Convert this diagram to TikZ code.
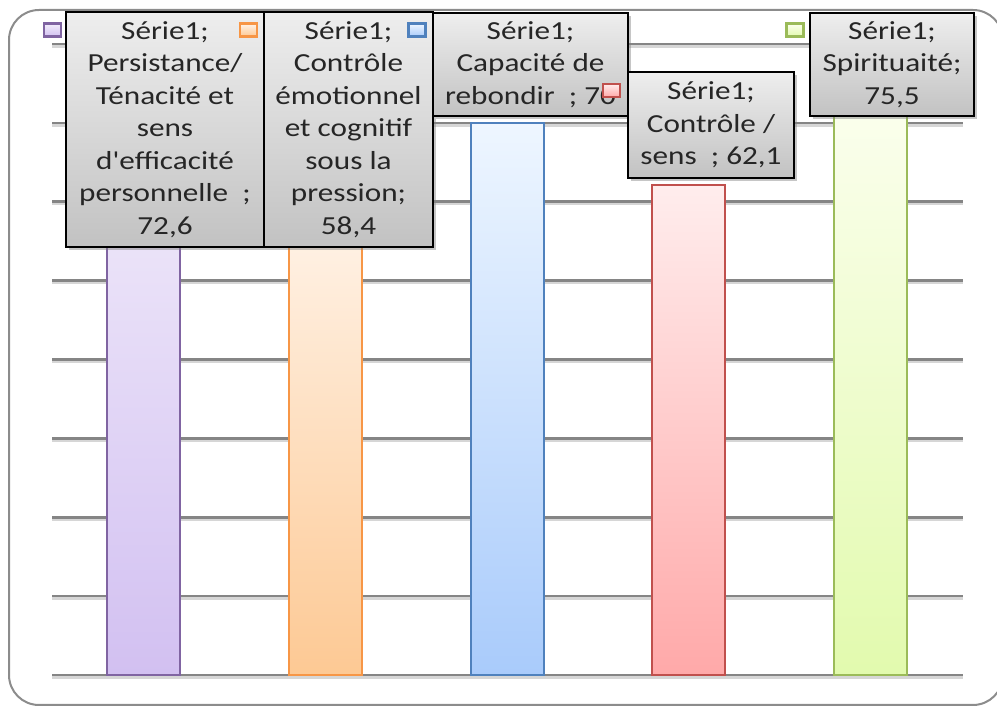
\documentclass[tikz,border=0pt]{standalone}
\usepackage{fontspec}
\newfontfamily\lblfont[FakeStretch=1.2]{Carlito}
\usetikzlibrary{shadows}

\definecolor{frameGray}{HTML}{8C8C8C}
\definecolor{gridGray}{HTML}{858585}
\definecolor{gridShade}{HTML}{D6D6D6}
\definecolor{lblTop}{HTML}{EEEEEE}
\definecolor{lblBot}{HTML}{C2C2C2}
\definecolor{lblText}{HTML}{262626}
\definecolor{violLine}{HTML}{8064A2}
\definecolor{violTop}{HTML}{F3EEFB}
\definecolor{violBot}{HTML}{D2C0F1}
\definecolor{orngLine}{HTML}{F79646}
\definecolor{orngTop}{HTML}{FFF3E8}
\definecolor{orngBot}{HTML}{FDC994}
\definecolor{bleuLine}{HTML}{4F81BD}
\definecolor{bleuTop}{HTML}{EEF6FF}
\definecolor{bleuBot}{HTML}{A9CBFB}
\definecolor{rougLine}{HTML}{C0504D}
\definecolor{rougTop}{HTML}{FFEDED}
\definecolor{rougBot}{HTML}{FFA9A9}
\definecolor{vertLine}{HTML}{9BBB59}
\definecolor{vertTop}{HTML}{FCFFF0}
\definecolor{vertBot}{HTML}{E2FAAE}

\tikzset{
  lbl/.style={draw=black, line width=1.2pt, top color=lblTop, bottom color=lblBot,
    align=center, inner sep=2pt, text=lblText,
    font={\lblfont\fontsize{13pt}{16.25pt}\selectfont},
    drop shadow={opacity=0.45, shadow xshift=1.5pt, shadow yshift=-1.5pt}},
  keybox/.style={draw=#1Line, line width=1.3pt, top color=#1Top, bottom color=#1Bot,
    minimum width=8.5pt, minimum height=6.5pt, inner sep=0pt}
}

\begin{document}
\begin{tikzpicture}[x=0.5pt,y=0.5pt]
\useasboundingbox (0,0) rectangle (997,707);

% outer frame
\draw [frameGray, line width=1pt, rounded corners=15pt] (9,2) rectangle (1003,697);

% gridlines, 0 to 80 step 10
\foreach \k in {0,...,8} {
  \draw [gridShade, line width=1.2pt] (52,{29.5+78.87*\k}) -- (963,{29.5+78.87*\k});
  \draw [gridGray, line width=1.3pt] (52,{32+78.87*\k}) -- (963,{32+78.87*\k});
}

% bars
\foreach \x/\v/\c in {107/72.6/viol, 289/58.4/orng, 471/70/bleu, 652/62.1/roug, 834/75.5/vert} {
  \draw [draw=\c Line, line width=1pt, top color=\c Top, bottom color=\c Bot]
    (\x,32) rectangle ({\x+73},{32+7.887*\v});
}

% data labels
\node [lbl, minimum width=99pt, minimum height=117.5pt] (persist) at (165,577.5)
  {Série1;\\Persistance/\\Ténacité et\\sens\\d'efficacité\\personnelle\ \ ;\\72,6};
\node [lbl, minimum width=84.5pt, minimum height=117.5pt] (emotion) at (348.5,577.5)
  {Série1;\\Contrôle\\émotionnel\\et cognitif\\sous la\\pression;\\58,4};
\node [lbl, minimum width=97.5pt, minimum height=51.5pt] (rebond) at (530.5,642.5)
  {Série1;\\Capacité de\\rebondir\ \ ; 70};
\node [lbl, minimum width=83pt, minimum height=53pt] (sens) at (711,582)
  {Série1;\\Contrôle /\\sens\ \ ; 62,1};
\node [lbl, minimum width=82pt, minimum height=51.5pt] (spirit) at (892,642.5)
  {Série1;\\Spirituaité;\\75,5};

% legend keys
\node [keybox=viol] (keyPersist) at (52.5,677) {};
\node [keybox=orng] (keyEmotion) at (248.5,677) {};
\node [keybox=bleu] (keyRebond) at (417,677) {};
\node [keybox=roug] (keySens) at (611.5,616.5) {};
\node [keybox=vert] (keySpirit) at (795,677) {};

\end{tikzpicture}
\end{document}
